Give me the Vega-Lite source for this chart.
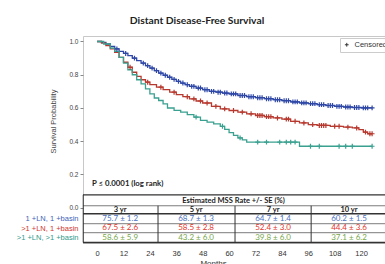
{
"$schema": "https://vega.github.io/schema/vega-lite/v6.json",
"width": 310, "height": 207,
"autosize": {"type": "none"},
"padding": {"left": 83, "top": 36, "right": 0, "bottom": 28},
"background": "white",
"config": {"view": {"stroke": "#c8c8c8", "strokeWidth": 1}, "font": "Lato", "axis": {"labelOverlap": false}},
"title": {"text": "Distant Disease-Free Survival", "fontSize": 10.3, "font": "Lato", "fontWeight": "bold", "color": "#222", "dx": -41, "offset": 10},
"datasets": {
"km": [
{"g":"a","x":0,"y":1,"c":0},{"g":"a","x":2,"y":0.995,"c":0},{"g":"a","x":4,"y":0.985,"c":0},{"g":"a","x":6,"y":0.97,"c":0},{"g":"a","x":8,"y":0.955,"c":0},{"g":"a","x":9,"y":0.955,"c":1},{"g":"a","x":10,"y":0.94,"c":0},{"g":"a","x":12,"y":0.928,"c":0},{"g":"a","x":13,"y":0.928,"c":1},{"g":"a","x":14,"y":0.915,"c":0},{"g":"a","x":16,"y":0.9,"c":0},{"g":"a","x":17,"y":0.9,"c":1},{"g":"a","x":18,"y":0.885,"c":0},{"g":"a","x":20,"y":0.87,"c":0},{"g":"a","x":21,"y":0.87,"c":1},{"g":"a","x":22,"y":0.855,"c":0},{"g":"a","x":23,"y":0.855,"c":1},{"g":"a","x":24,"y":0.84,"c":0},{"g":"a","x":25,"y":0.84,"c":1},{"g":"a","x":26,"y":0.825,"c":0},{"g":"a","x":27,"y":0.825,"c":1},{"g":"a","x":28,"y":0.81,"c":0},{"g":"a","x":29,"y":0.81,"c":1},{"g":"a","x":30,"y":0.797,"c":0},{"g":"a","x":31,"y":0.797,"c":1},{"g":"a","x":32,"y":0.785,"c":0},{"g":"a","x":33,"y":0.785,"c":1},{"g":"a","x":34,"y":0.772,"c":0},{"g":"a","x":35,"y":0.772,"c":1},{"g":"a","x":36,"y":0.76,"c":0},{"g":"a","x":37,"y":0.76,"c":1},{"g":"a","x":38,"y":0.75,"c":0},{"g":"a","x":39,"y":0.75,"c":1},{"g":"a","x":40,"y":0.74,"c":0},{"g":"a","x":41,"y":0.74,"c":1},{"g":"a","x":42,"y":0.73,"c":0},{"g":"a","x":43,"y":0.73,"c":1},{"g":"a","x":44,"y":0.73,"c":1},{"g":"a","x":45,"y":0.72,"c":0},{"g":"a","x":46,"y":0.72,"c":1},{"g":"a","x":47,"y":0.72,"c":1},{"g":"a","x":48,"y":0.71,"c":0},{"g":"a","x":49,"y":0.71,"c":1},{"g":"a","x":50,"y":0.71,"c":1},{"g":"a","x":51,"y":0.7,"c":0},{"g":"a","x":52,"y":0.7,"c":1},{"g":"a","x":53,"y":0.7,"c":1},{"g":"a","x":54,"y":0.695,"c":0},{"g":"a","x":55,"y":0.695,"c":1},{"g":"a","x":56,"y":0.695,"c":1},{"g":"a","x":57,"y":0.69,"c":0},{"g":"a","x":58,"y":0.69,"c":1},{"g":"a","x":59,"y":0.69,"c":1},{"g":"a","x":60,"y":0.685,"c":0},{"g":"a","x":61,"y":0.685,"c":1},{"g":"a","x":62,"y":0.685,"c":1},{"g":"a","x":63,"y":0.685,"c":1},{"g":"a","x":64,"y":0.675,"c":0},{"g":"a","x":65,"y":0.675,"c":1},{"g":"a","x":66,"y":0.675,"c":1},{"g":"a","x":67,"y":0.675,"c":1},{"g":"a","x":68,"y":0.668,"c":0},{"g":"a","x":69,"y":0.668,"c":1},{"g":"a","x":70,"y":0.668,"c":1},{"g":"a","x":71,"y":0.668,"c":1},{"g":"a","x":72,"y":0.662,"c":0},{"g":"a","x":73,"y":0.662,"c":1},{"g":"a","x":74,"y":0.662,"c":1},{"g":"a","x":75,"y":0.662,"c":1},{"g":"a","x":76,"y":0.656,"c":0},{"g":"a","x":77,"y":0.656,"c":1},{"g":"a","x":78,"y":0.656,"c":1},{"g":"a","x":79,"y":0.656,"c":1},{"g":"a","x":80,"y":0.65,"c":0},{"g":"a","x":81,"y":0.65,"c":1},{"g":"a","x":82,"y":0.65,"c":1},{"g":"a","x":83,"y":0.65,"c":1},{"g":"a","x":84,"y":0.644,"c":0},{"g":"a","x":85,"y":0.644,"c":1},{"g":"a","x":86,"y":0.644,"c":1},{"g":"a","x":87,"y":0.644,"c":1},{"g":"a","x":88,"y":0.637,"c":0},{"g":"a","x":89,"y":0.637,"c":1},{"g":"a","x":90,"y":0.637,"c":1},{"g":"a","x":91,"y":0.637,"c":1},{"g":"a","x":92,"y":0.631,"c":0},{"g":"a","x":93,"y":0.631,"c":1},{"g":"a","x":94,"y":0.631,"c":1},{"g":"a","x":95,"y":0.631,"c":1},{"g":"a","x":96,"y":0.626,"c":0},{"g":"a","x":97,"y":0.626,"c":1},{"g":"a","x":98,"y":0.626,"c":1},{"g":"a","x":99,"y":0.626,"c":1},{"g":"a","x":100,"y":0.62,"c":0},{"g":"a","x":101,"y":0.62,"c":1},{"g":"a","x":102,"y":0.62,"c":1},{"g":"a","x":103,"y":0.62,"c":1},{"g":"a","x":104,"y":0.615,"c":0},{"g":"a","x":105,"y":0.615,"c":1},{"g":"a","x":106,"y":0.615,"c":1},{"g":"a","x":107,"y":0.615,"c":1},{"g":"a","x":108,"y":0.61,"c":0},{"g":"a","x":109,"y":0.61,"c":1},{"g":"a","x":110,"y":0.61,"c":1},{"g":"a","x":111,"y":0.61,"c":1},{"g":"a","x":112,"y":0.606,"c":0},{"g":"a","x":113,"y":0.606,"c":1},{"g":"a","x":114,"y":0.606,"c":1},{"g":"a","x":115,"y":0.606,"c":1},{"g":"a","x":116,"y":0.603,"c":0},{"g":"a","x":117,"y":0.603,"c":1},{"g":"a","x":118,"y":0.603,"c":1},{"g":"a","x":119,"y":0.603,"c":1},{"g":"a","x":120,"y":0.601,"c":0},{"g":"a","x":121,"y":0.601,"c":1},{"g":"a","x":122,"y":0.601,"c":1},{"g":"a","x":123,"y":0.601,"c":1},{"g":"a","x":125,"y":0.601,"c":1},
{"g":"b","x":0,"y":1,"c":0},{"g":"b","x":2,"y":0.99,"c":0},{"g":"b","x":4,"y":0.975,"c":0},{"g":"b","x":6,"y":0.955,"c":0},{"g":"b","x":8,"y":0.935,"c":0},{"g":"b","x":10,"y":0.905,"c":0},{"g":"b","x":12,"y":0.875,"c":0},{"g":"b","x":14,"y":0.845,"c":0},{"g":"b","x":15,"y":0.845,"c":1},{"g":"b","x":16,"y":0.815,"c":0},{"g":"b","x":18,"y":0.79,"c":0},{"g":"b","x":20,"y":0.77,"c":0},{"g":"b","x":22,"y":0.755,"c":0},{"g":"b","x":23,"y":0.755,"c":1},{"g":"b","x":24,"y":0.74,"c":0},{"g":"b","x":27,"y":0.725,"c":0},{"g":"b","x":29,"y":0.725,"c":1},{"g":"b","x":30,"y":0.71,"c":0},{"g":"b","x":33,"y":0.695,"c":0},{"g":"b","x":35,"y":0.695,"c":1},{"g":"b","x":36,"y":0.68,"c":0},{"g":"b","x":39,"y":0.668,"c":0},{"g":"b","x":41,"y":0.668,"c":1},{"g":"b","x":42,"y":0.655,"c":0},{"g":"b","x":44,"y":0.655,"c":1},{"g":"b","x":45,"y":0.642,"c":0},{"g":"b","x":47,"y":0.642,"c":1},{"g":"b","x":48,"y":0.63,"c":0},{"g":"b","x":50,"y":0.63,"c":1},{"g":"b","x":52,"y":0.61,"c":0},{"g":"b","x":54,"y":0.61,"c":1},{"g":"b","x":56,"y":0.595,"c":0},{"g":"b","x":58,"y":0.595,"c":1},{"g":"b","x":60,"y":0.585,"c":0},{"g":"b","x":62,"y":0.585,"c":1},{"g":"b","x":64,"y":0.575,"c":0},{"g":"b","x":66,"y":0.575,"c":1},{"g":"b","x":68,"y":0.565,"c":0},{"g":"b","x":70,"y":0.565,"c":1},{"g":"b","x":72,"y":0.555,"c":0},{"g":"b","x":73,"y":0.555,"c":1},{"g":"b","x":74,"y":0.555,"c":1},{"g":"b","x":75,"y":0.555,"c":1},{"g":"b","x":76,"y":0.548,"c":0},{"g":"b","x":77,"y":0.548,"c":1},{"g":"b","x":78,"y":0.548,"c":1},{"g":"b","x":79,"y":0.548,"c":1},{"g":"b","x":80,"y":0.54,"c":0},{"g":"b","x":82,"y":0.54,"c":1},{"g":"b","x":84,"y":0.533,"c":0},{"g":"b","x":86,"y":0.533,"c":1},{"g":"b","x":87,"y":0.533,"c":1},{"g":"b","x":88,"y":0.52,"c":0},{"g":"b","x":90,"y":0.52,"c":1},{"g":"b","x":92,"y":0.51,"c":0},{"g":"b","x":94,"y":0.51,"c":1},{"g":"b","x":96,"y":0.5,"c":0},{"g":"b","x":98,"y":0.5,"c":1},{"g":"b","x":100,"y":0.495,"c":0},{"g":"b","x":101,"y":0.495,"c":1},{"g":"b","x":102,"y":0.495,"c":1},{"g":"b","x":103,"y":0.495,"c":1},{"g":"b","x":104,"y":0.495,"c":1},{"g":"b","x":106,"y":0.49,"c":0},{"g":"b","x":108,"y":0.49,"c":1},{"g":"b","x":110,"y":0.49,"c":1},{"g":"b","x":112,"y":0.485,"c":0},{"g":"b","x":114,"y":0.485,"c":1},{"g":"b","x":116,"y":0.48,"c":0},{"g":"b","x":118,"y":0.48,"c":1},{"g":"b","x":119,"y":0.47,"c":0},{"g":"b","x":121,"y":0.455,"c":0},{"g":"b","x":122,"y":0.455,"c":1},{"g":"b","x":123,"y":0.445,"c":0},{"g":"b","x":124,"y":0.445,"c":1},{"g":"b","x":125,"y":0.445,"c":1},
{"g":"c","x":0,"y":1,"c":0},{"g":"c","x":3,"y":0.985,"c":0},{"g":"c","x":6,"y":0.96,"c":0},{"g":"c","x":8,"y":0.94,"c":0},{"g":"c","x":10,"y":0.905,"c":0},{"g":"c","x":12,"y":0.87,"c":0},{"g":"c","x":14,"y":0.83,"c":0},{"g":"c","x":16,"y":0.8,"c":0},{"g":"c","x":18,"y":0.77,"c":0},{"g":"c","x":20,"y":0.745,"c":0},{"g":"c","x":22,"y":0.715,"c":0},{"g":"c","x":24,"y":0.685,"c":0},{"g":"c","x":26,"y":0.66,"c":0},{"g":"c","x":28,"y":0.645,"c":0},{"g":"c","x":30,"y":0.625,"c":0},{"g":"c","x":32,"y":0.6,"c":0},{"g":"c","x":35,"y":0.586,"c":0},{"g":"c","x":38,"y":0.575,"c":0},{"g":"c","x":41,"y":0.56,"c":0},{"g":"c","x":44,"y":0.545,"c":0},{"g":"c","x":45,"y":0.545,"c":1},{"g":"c","x":47,"y":0.525,"c":0},{"g":"c","x":50,"y":0.515,"c":0},{"g":"c","x":53,"y":0.505,"c":0},{"g":"c","x":56,"y":0.49,"c":0},{"g":"c","x":57,"y":0.49,"c":1},{"g":"c","x":58,"y":0.472,"c":0},{"g":"c","x":60,"y":0.452,"c":0},{"g":"c","x":62,"y":0.435,"c":0},{"g":"c","x":64,"y":0.42,"c":0},{"g":"c","x":65,"y":0.42,"c":1},{"g":"c","x":66,"y":0.408,"c":0},{"g":"c","x":68,"y":0.395,"c":0},{"g":"c","x":73,"y":0.395,"c":1},{"g":"c","x":77,"y":0.395,"c":1},{"g":"c","x":83,"y":0.395,"c":1},{"g":"c","x":86,"y":0.395,"c":1},{"g":"c","x":88,"y":0.395,"c":1},{"g":"c","x":90,"y":0.395,"c":1},{"g":"c","x":92,"y":0.37,"c":0},{"g":"c","x":97,"y":0.37,"c":1},{"g":"c","x":101,"y":0.37,"c":1},{"g":"c","x":110,"y":0.37,"c":1},{"g":"c","x":113,"y":0.37,"c":1},{"g":"c","x":116,"y":0.37,"c":1},{"g":"c","x":125,"y":0.37,"c":1}
],
"tbl": [
{"x":62,"y":0.042,"txt":"Estimated MSS Rate +/- SE (%)","k":"t"},
{"x":10.5,"y":-0.015,"txt":"3 yr","k":"h"},{"x":45,"y":-0.015,"txt":"5 yr","k":"h"},{"x":80,"y":-0.015,"txt":"7 yr","k":"h"},{"x":114.5,"y":-0.015,"txt":"10 yr","k":"h"},
{"x":10.5,"y":-0.066,"txt":"75.7 ± 1.2","k":"a"},{"x":45,"y":-0.066,"txt":"68.7 ± 1.3","k":"a"},{"x":80,"y":-0.066,"txt":"64.7 ± 1.4","k":"a"},{"x":114.5,"y":-0.066,"txt":"60.2 ± 1.5","k":"a"},
{"x":10.5,"y":-0.123,"txt":"67.5 ± 2.6","k":"b"},{"x":45,"y":-0.123,"txt":"58.5 ± 2.8","k":"b"},{"x":80,"y":-0.123,"txt":"52.4 ± 3.0","k":"b"},{"x":114.5,"y":-0.123,"txt":"44.4 ± 3.6","k":"b"},
{"x":10.5,"y":-0.18,"txt":"58.6 ± 5.9","k":"c"},{"x":45,"y":-0.18,"txt":"43.2 ± 6.0","k":"c"},{"x":80,"y":-0.18,"txt":"39.8 ± 6.0","k":"c"},{"x":114.5,"y":-0.18,"txt":"37.1 ± 6.2","k":"c"}
],
"hr": [{"x":-6.4,"x2":134.5,"y":0.078,"k":"thick"},{"x":-6.4,"x2":134.5,"y":0.012,"k":"thin"},{"x":-6.4,"x2":134.5,"y":-0.036,"k":"thick"},{"x":-6.4,"x2":134.5,"y":-0.096,"k":"thin"},{"x":-6.4,"x2":134.5,"y":-0.15,"k":"thin"},{"x":-6.4,"x2":134.5,"y":-0.209,"k":"thick"}],
"vr": [{"x":-6.3,"y":0.078,"y2":-0.209},{"x":27.7,"y":0.012,"y2":-0.209},{"x":62.7,"y":0.012,"y2":-0.209},{"x":97.3,"y":0.012,"y2":-0.209}],
"pv": [{"x":-2.3,"y":0.144,"txt":"P ≤ 0.0001 (log rank)"}]
},
"encoding": {
  "x": {"field": "x", "type": "quantitative", "scale": {"domain": [-6.4, 134.5], "nice": false, "zero": false},
   "axis": {"values": [0,12,24,36,48,60,72,84,96,108,120], "labelOverlap": false, "ticks": false, "domain": false, "grid": false, "labelPadding": 6, "labelFontSize": 7.5, "labelFont": "Liberation Sans", "labelColor": "#333", "title": "Months", "titleFont": "Liberation Sans", "titleFontSize": 8, "titleFontWeight": "normal", "titleColor": "#333", "titleX": 130, "titlePadding": 3}},
  "y": {"field": "y", "type": "quantitative", "scale": {"domain": [-0.212, 1.033], "nice": false, "zero": false},
   "axis": {"values": [0,0.2,0.4,0.6,0.8,1,-0.066,-0.123,-0.18],
    "labelExpr": "datum.value < -0.15 ? '>1 +LN, >1 +basin' : datum.value < -0.1 ? '>1 +LN, 1 +basin' : datum.value < -0.01 ? '1 +LN, 1 +basin' : format(datum.value, '.1f')",
    "labelColor": {"condition": [{"test": "datum.value < -0.15", "value": "#2e9a8c"}, {"test": "datum.value < -0.1", "value": "#d03530"}, {"test": "datum.value < -0.01", "value": "#3d5fb8"}], "value": "#444"},
    "labelFontSize": {"condition": {"test": "datum.value < -0.01", "value": 7.5}, "value": 6.5},
    "tickOpacity": {"condition": {"test": "datum.value < -0.01", "value": 0}, "value": 1},
    "labelOverlap": false, "labelFont": "Liberation Sans", "domain": false, "grid": false, "tickSize": 3, "tickColor": "#888", "labelPadding": 2,
    "title": "Survival Probability", "titleX": -26, "titleY": 85, "titleFont": "Liberation Sans", "titleFontSize": 7.5, "titleFontWeight": "normal", "titleColor": "#444"}}
},
"layer": [
{"data": {"name": "km"},
 "mark": {"type": "line", "interpolate": "step-after", "strokeWidth": 1.3},
 "encoding": {
  "color": {"field": "g", "type": "nominal", "scale": {"domain": ["c","b","a"], "range": ["#3aa190","#b7382e","#2e47a6"]}, "legend": null}
 }},
{"data": {"name": "km"},
 "transform": [{"filter": "datum.c == 1"}],
 "mark": {"type": "point", "filled": false, "strokeWidth": 1.2, "size": 24, "opacity": 1},
 "encoding": {
  "color": {"field": "g", "type": "nominal", "legend": null},
  "shape": {"datum": "Censored", "type": "nominal", "scale": {"range": ["M-1,0H1M0,-1V1"]},
   "legend": {"title": null, "orient": "top-right", "offset": 2, "padding": 3, "strokeColor": "#ccc", "fillColor": "white", "labelFontSize": 7.5, "labelFont": "Liberation Sans", "labelColor": "#333", "symbolSize": 14, "symbolStrokeColor": "#333", "symbolStrokeWidth": 1}}
 }},
{"data": {"name": "hr"}, "transform": [{"filter": "datum.k == 'thick'"}],
 "mark": {"type": "rule", "color": "#333", "strokeWidth": 1.3},
 "encoding": {"x2": {"field": "x2"}}},
{"data": {"name": "hr"}, "transform": [{"filter": "datum.k == 'thin'"}],
 "mark": {"type": "rule", "color": "#444", "strokeWidth": 0.7},
 "encoding": {"x2": {"field": "x2"}}},
{"data": {"name": "vr"},
 "mark": {"type": "rule", "color": "#333", "strokeWidth": 1},
 "encoding": {"y2": {"field": "y2"}}},
{"data": {"name": "tbl"}, "transform": [{"filter": "datum.k == 't'"}],
 "mark": {"type": "text", "font": "Lato", "fontSize": 7.5, "fontWeight": "bold", "color": "#222", "baseline": "middle"},
 "encoding": {"text": {"field": "txt"}}},
{"data": {"name": "tbl"}, "transform": [{"filter": "datum.k == 'h'"}],
 "mark": {"type": "text", "font": "Lato", "fontSize": 7.5, "fontWeight": "bold", "color": "#222", "baseline": "middle"},
 "encoding": {"text": {"field": "txt"}}},
{"data": {"name": "tbl"}, "transform": [{"filter": "datum.k == 'a' || datum.k == 'b' || datum.k == 'c'"}],
 "mark": {"type": "text", "font": "Lato", "fontSize": 8, "baseline": "middle"},
 "encoding": {"text": {"field": "txt"},
  "fill": {"field": "k", "type": "nominal", "scale": {"domain": ["a","b","c"], "range": ["#4a70c0","#e5332a","#78a84a"]}, "legend": null}}},
{"data": {"name": "pv"},
 "mark": {"type": "text", "font": "Lato", "fontSize": 7.8, "fontWeight": "bold", "color": "#222", "align": "left", "baseline": "middle"},
 "encoding": {"text": {"field": "txt"}}}
]
}
